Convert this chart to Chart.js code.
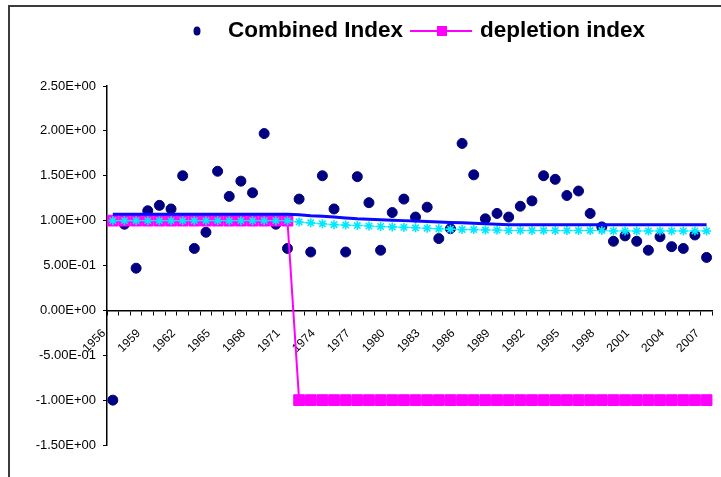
<!DOCTYPE html>
<html>
<head>
<meta charset="utf-8">
<script src="https://cdn.jsdelivr.net/npm/chart.js@4/dist/chart.umd.min.js"></script>
<style>
  html, body { margin: 0; padding: 0; background: #fff; overflow: hidden; }
  #wrap { position: relative; width: 721px; height: 477px; overflow: hidden; }
  #frame { position: absolute; left: 8px; top: 5px; width: 900px; height: 700px;
           border-left: 2px solid #3c3c3c; border-top: 2px solid #3c3c3c; }
  #c { position: absolute; left: 0; top: 0; }
</style>
</head>
<body>
<div id="wrap">
  <div id="frame"></div>
  <canvas id="c" width="721" height="477"></canvas>
</div>
<script>
// Years on the category axis
const years = [
  '1956','1957','1958','1959','1960','1961','1962','1963','1964','1965',
  '1966','1967','1968','1969','1970','1971','1972','1973','1974','1975',
  '1976','1977','1978','1979','1980','1981','1982','1983','1984','1985',
  '1986','1987','1988','1989','1990','1991','1992','1993','1994','1995',
  '1996','1997','1998','1999','2000','2001','2002','2003','2004','2005',
  '2006','2007'
];

// Combined Index, one value per year
const combinedIndex = [
  -1.00, 0.96, 0.47, 1.11, 1.17, 1.13, 1.50, 0.69, 0.87, 1.55,
   1.27, 1.44, 1.31, 1.97, 0.96, 0.69, 1.24, 0.65, 1.50, 1.13,
   0.65, 1.49, 1.20, 0.67, 1.09, 1.24, 1.04, 1.15, 0.80, 0.91,
   1.86, 1.51, 1.02, 1.08, 1.04, 1.16, 1.22, 1.50, 1.46, 1.28,
   1.33, 1.08, 0.93, 0.77, 0.83, 0.77, 0.67, 0.82, 0.71, 0.69,
   0.84, 0.59
];

// Depletion index: +1 until 1971, -1 afterwards
const depletionIndex = [
   1, 1, 1, 1, 1, 1, 1, 1, 1, 1,
   1, 1, 1, 1, 1, 1, -1, -1, -1, -1,
  -1, -1, -1, -1, -1, -1, -1, -1, -1, -1,
  -1, -1, -1, -1, -1, -1, -1, -1, -1, -1,
  -1, -1, -1, -1, -1, -1, -1, -1, -1, -1,
  -1, -1
];

// Upper reference level (solid blue line)
const upperLevel = [
  1.070, 1.070, 1.070, 1.070, 1.070, 1.070, 1.070, 1.070, 1.070, 1.070,
  1.070, 1.070, 1.070, 1.070, 1.070, 1.070, 1.065, 1.055, 1.050, 1.040,
  1.030, 1.020, 1.015, 1.010, 1.005, 1.000, 0.995, 0.990, 0.985, 0.980,
  0.975, 0.970, 0.965, 0.960, 0.955, 0.955, 0.955, 0.955, 0.955, 0.955,
  0.955, 0.955, 0.955, 0.955, 0.955, 0.955, 0.955, 0.955, 0.955, 0.955,
  0.955, 0.955
];

// Lower reference level (cyan line with star markers)
const lowerLevel = [
  1.000, 1.000, 1.000, 1.000, 1.000, 1.000, 1.000, 1.000, 1.000, 1.000,
  1.000, 1.000, 1.000, 1.000, 1.000, 1.000, 0.985, 0.975, 0.965, 0.955,
  0.950, 0.945, 0.940, 0.935, 0.930, 0.925, 0.920, 0.915, 0.910, 0.905,
  0.900, 0.900, 0.895, 0.895, 0.890, 0.890, 0.890, 0.890, 0.890, 0.890,
  0.890, 0.890, 0.890, 0.885, 0.885, 0.885, 0.885, 0.885, 0.885, 0.885,
  0.885, 0.885
];

// Value axis ticks and their printed form
const yTickValues = [-1.5, -1.0, -0.5, 0.0, 0.5, 1.0, 1.5, 2.0, 2.5];
const yTickLabels = ['-1.50E+00', '-1.00E+00', '-5.00E-01', '0.00E+00', '5.00E-01',
                     '1.00E+00', '1.50E+00', '2.00E+00', '2.50E+00'];

const FONT = '"Liberation Sans", Arial, sans-serif';

// Legend row across the top: dot for the index, line-and-square for depletion
const topLegend = {
  id: 'topLegend',
  afterDraw(chart) {
    const ctx = chart.ctx;
    const ds = chart.data.datasets;
    const y = 31;
    ctx.save();
    ctx.font = 'bold 22.5px ' + FONT;
    ctx.textBaseline = 'middle';
    ctx.textAlign = 'left';

    ctx.fillStyle = ds[0].pointBackgroundColor;
    ctx.beginPath();
    ctx.ellipse(197, y, 3.5, 4.5, 0, 0, Math.PI * 2);
    ctx.fill();
    ctx.fillStyle = '#000';
    ctx.fillText(ds[0].label, 228, y);

    ctx.strokeStyle = ds[1].borderColor;
    ctx.lineWidth = 2;
    ctx.beginPath();
    ctx.moveTo(410, y);
    ctx.lineTo(472, y);
    ctx.stroke();
    ctx.fillStyle = ds[1].pointBackgroundColor;
    ctx.fillRect(437, y - 5, 10, 10);
    ctx.fillStyle = '#000';
    ctx.fillText(ds[1].label, 480, y);
    ctx.restore();
  }
};

new Chart(document.getElementById('c'), {
  type: 'line',
  data: {
    labels: years,
    datasets: [
      {
        label: 'Combined Index',
        data: combinedIndex,
        showLine: false,
        pointStyle: 'circle',
        pointRadius: 5,
        pointBorderWidth: 1,
        pointBackgroundColor: '#000080',
        pointBorderColor: '#000080',
        borderColor: '#000080',
        backgroundColor: '#000080',
        clip: false,
        order: 3
      },
      {
        label: 'depletion index',
        data: depletionIndex,
        borderColor: '#ff00ff',
        backgroundColor: '#ff00ff',
        borderWidth: 2,
        tension: 0,
        pointStyle: 'rect',
        pointRadius: 7.6,
        pointBorderWidth: 1,
        pointBackgroundColor: '#ff00ff',
        pointBorderColor: '#ff00ff',
        clip: false,
        order: 2
      },
      {
        label: 'upper level',
        data: upperLevel,
        borderColor: '#0a0aff',
        borderWidth: 3,
        tension: 0,
        pointRadius: 0,
        clip: false,
        order: 0
      },
      {
        label: 'lower level',
        data: lowerLevel,
        borderColor: '#00ffff',
        borderWidth: 1,
        tension: 0,
        pointStyle: 'star',
        pointRadius: 4.5,
        pointBorderWidth: 1.6,
        pointBackgroundColor: '#00ffff',
        pointBorderColor: '#00e8ff',
        clip: false,
        order: 1
      }
    ]
  },
  options: {
    responsive: false,
    animation: false,
    events: [],
    layout: { padding: { left: 0, right: 8, top: 86, bottom: 32 } },
    plugins: {
      legend: { display: false },
      tooltip: { enabled: false }
    },
    scales: {
      x: {
        type: 'category',
        offset: true,
        position: { y: 0 },
        grid: {
          offset: true,
          drawOnChartArea: false,
          drawTicks: true,
          tickLength: 4,
          tickColor: '#000',
          tickWidth: 1
        },
        border: { display: true, color: '#000', width: 1.5 },
        ticks: {
          autoSkip: false,
          minRotation: 45,
          maxRotation: 45,
          labelOffset: -9,
          padding: 12,
          color: '#000',
          font: { family: FONT, size: 12 },
          callback: (v, i) => (i % 3 === 0 ? years[i] : '')
        },
        afterFit: (s) => { s.height = 0; s.paddingLeft = 0; s.paddingRight = 0; }
      },
      y: {
        min: -1.5,
        max: 2.5,
        grid: {
          drawOnChartArea: false,
          drawTicks: true,
          tickLength: 4,
          tickColor: '#000'
        },
        border: { display: true, color: '#000', width: 1.5 },
        ticks: {
          stepSize: 0.5,
          padding: 7,
          color: '#000',
          font: { family: FONT, size: 13 },
          callback: (v) => {
            const k = yTickValues.findIndex(t => Math.abs(t - v) < 1e-6);
            return k >= 0 ? yTickLabels[k] : '';
          }
        },
        afterFit: (s) => { s.width = 107; }
      }
    }
  },
  plugins: [topLegend]
});
</script>
</body>
</html>
